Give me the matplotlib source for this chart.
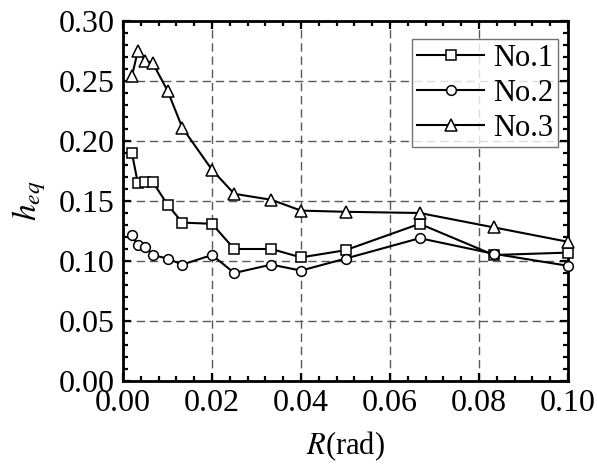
import matplotlib
matplotlib.use("Agg")
import matplotlib.pyplot as plt
from matplotlib.ticker import MultipleLocator, FormatStrFormatter

plt.rcParams['font.family'] = ['Liberation Serif', 'DejaVu Serif']
plt.rcParams['mathtext.fontset'] = 'stix'

R = [1/500, 1/300, 1/200, 1/150, 1/100, 1/75, 1/50, 1/40, 1/30, 1/25, 1/20, 1/15, 1/12, 1/10]
no1 = [0.190, 0.165, 0.166, 0.166, 0.147, 0.132, 0.131, 0.110, 0.110, 0.103, 0.109, 0.131, 0.105, 0.107]
no2 = [0.122, 0.113, 0.112, 0.105, 0.102, 0.097, 0.105, 0.090, 0.097, 0.092, 0.102, 0.119, 0.106, 0.096]
no3 = [0.254, 0.275, 0.267, 0.265, 0.242, 0.211, 0.176, 0.156, 0.151, 0.142, 0.141, 0.140, 0.128, 0.116]
labels = ['No.1', 'No.2', 'No.3']
markers = ['s', 'o', '^']

fig = plt.figure(figsize=(5.97, 4.69), dpi=100)
ax = fig.add_axes([123/597, 1-381/469, (568-123)/597, (381-21)/469])

for y, lab, m in zip([no1, no2, no3], labels, markers):
    ms = 8.0 if m == '^' else 7.0
    ax.plot(R, y, color='black', lw=1.5, marker=m, markersize=ms,
            markerfacecolor='white', markeredgecolor='black', markeredgewidth=1.1,
            label=lab, clip_on=False, zorder=3)

ax.set_xlim(0, 0.10)
ax.set_ylim(0, 0.30)
ax.xaxis.set_major_locator(MultipleLocator(0.02))
ax.xaxis.set_minor_locator(MultipleLocator(0.004))
ax.yaxis.set_major_locator(MultipleLocator(0.05))
ax.yaxis.set_minor_locator(MultipleLocator(0.01))
ax.xaxis.set_major_formatter(FormatStrFormatter('%.2f'))
ax.yaxis.set_major_formatter(FormatStrFormatter('%.2f'))

ax.tick_params(which='both', direction='in', top=True, right=True, width=1.6)
ax.tick_params(which='major', length=6, labelsize=23, pad=6)
ax.tick_params(which='minor', length=3.5)
for s in ax.spines.values():
    s.set_linewidth(2.0)

ax.grid(True, which='major', color='0.35', lw=1.0, linestyle=(0, (6, 3.5)))
ax.set_axisbelow(True)

ax.set_xlabel(r'$R$(rad)', fontsize=22, labelpad=8)
ax.set_ylabel(r'$h_{eq}$', fontsize=24, labelpad=8)

leg = ax.legend(loc='upper right', bbox_to_anchor=(558/597, 1-39/469),
                bbox_transform=fig.transFigure, borderaxespad=0,
                fontsize=22, frameon=True, fancybox=False, handlelength=2.2,
                handletextpad=0.3, labelspacing=0.2, borderpad=0.15)
leg.get_frame().set_edgecolor('0.3')
leg.get_frame().set_linewidth(1.0)

fig.savefig('out.png', dpi=100)
